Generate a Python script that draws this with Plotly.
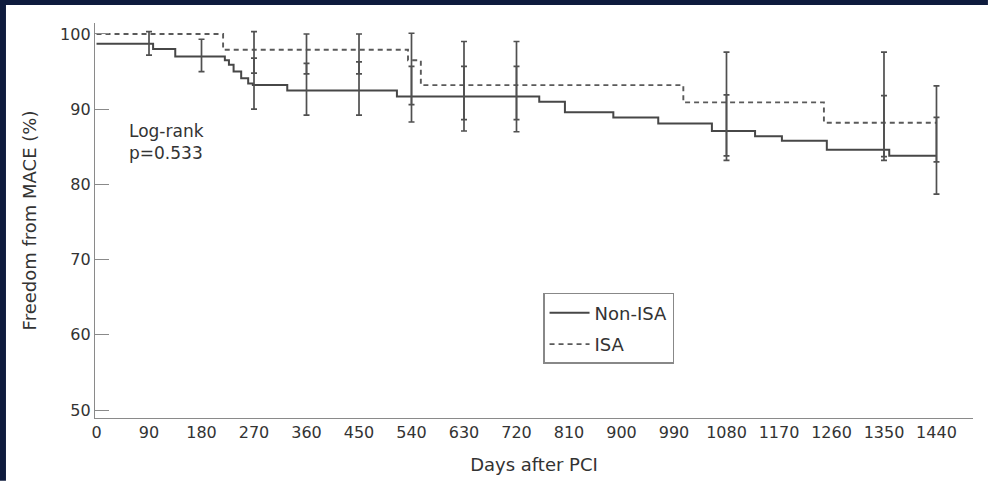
import plotly.graph_objects as go
import bisect

# ---- data ----
non_isa_days = [0, 97, 135, 220, 227, 235, 248, 260, 268, 327, 515, 759, 803, 886, 963, 1055, 1129, 1175, 1252, 1359, 1440]
non_isa_surv = [98.7, 98.0, 97.0, 96.5, 95.9, 95.0, 94.1, 93.4, 93.2, 92.5, 91.7, 91.0, 89.6, 88.9, 88.1, 87.1, 86.4, 85.8, 84.6, 83.8, 83.8]

isa_days = [0, 217, 534, 556, 1006, 1247, 1440]
isa_surv = [100.0, 97.9, 96.5, 93.2, 90.9, 88.2, 88.2]

non_ci_days = [90, 180, 270, 360, 450, 540, 630, 720, 1080, 1350, 1440]
non_ci_upper = [100.3, 99.3, 96.8, 96.1, 96.3, 95.7, 95.7, 95.7, 91.9, 91.8, 88.9]
non_ci_lower = [97.2, 95.0, 90.0, 89.2, 89.2, 88.3, 87.1, 87.0, 83.2, 83.2, 78.7]

isa_ci_days = [270, 360, 450, 540, 630, 720, 1080, 1350, 1440]
isa_ci_upper = [100.3, 100.0, 100.0, 100.1, 99.0, 99.0, 97.6, 97.6, 93.1]
isa_ci_lower = [94.8, 94.7, 94.7, 90.6, 88.6, 88.6, 83.8, 83.7, 83.0]

x_ticks = [0, 90, 180, 270, 360, 450, 540, 630, 720, 810, 900, 990, 1080, 1170, 1260, 1350, 1440]
y_ticks = [50, 60, 70, 80, 90, 100]

series_names = ["Non-ISA", "ISA"]
annotation_text = "Log-rank<br>p=0.533"


def step_value(days, vals, d):
    i = bisect.bisect_right(days, d) - 1
    return vals[max(i, 0)]


LINE = "#474747"
TXT = "#333333"
FONT = "DejaVu Sans"
NAVY = "#0e1b3d"

fig = go.Figure()

fig.add_trace(go.Scatter(
    x=non_isa_days, y=non_isa_surv, mode="lines", name=series_names[0],
    line=dict(color=LINE, width=2, shape="hv"), legendgroup="a"))
fig.add_trace(go.Scatter(
    x=isa_days, y=isa_surv, mode="lines", name=series_names[1],
    line=dict(color="#5a5a5a", width=1.9, shape="hv", dash="5px,4px"), legendgroup="b"))

# confidence interval bars
for days, up, lo, sd, sv in [
    (non_ci_days, non_ci_upper, non_ci_lower, non_isa_days, non_isa_surv),
    (isa_ci_days, isa_ci_upper, isa_ci_lower, isa_days, isa_surv),
]:
    centers = [step_value(sd, sv, d) for d in days]
    fig.add_trace(go.Scatter(
        x=days, y=centers, mode="none",
        showlegend=False, hoverinfo="skip",
        error_y=dict(type="data", symmetric=False,
                     array=[u - c for u, c in zip(up, centers)],
                     arrayminus=[c - l for l, c in zip(lo, centers)],
                     color="#505050", thickness=1.7, width=3)))

fig.add_annotation(
    x=0.037, y=0.70, xref="paper", yref="paper", xanchor="left", yanchor="middle",
    text=annotation_text, showarrow=False, align="left",
    font=dict(family=FONT, size=17, color=TXT))

# navy frame along the top and left edges (kept inside the figure bounds)
fig.add_shape(type="rect", xref="paper", yref="paper",
              x0=-0.1082, x1=1.017, y0=1.0456, y1=1.058,
              fillcolor=NAVY, line=dict(width=0), layer="below")
fig.add_shape(type="rect", xref="paper", yref="paper",
              x0=-0.1082, x1=-0.1014, y0=-0.159, y1=1.058,
              fillcolor=NAVY, line=dict(width=0), layer="below")

fig.update_layout(
    width=988, height=481,
    margin=dict(l=95, r=15, t=23, b=63, autoexpand=False),
    paper_bgcolor="white", plot_bgcolor="white",
    font=dict(family=FONT, size=16, color=TXT),
    showlegend=True,
    legend=dict(x=0.5103, y=0.3165, xanchor="left", yanchor="top",
                bordercolor="#888888", borderwidth=1.5, bgcolor="white",
                font=dict(family=FONT, size=18, color=TXT),
                tracegroupgap=5, itemwidth=40),
    xaxis=dict(range=[-2.6, 1502.6], tickvals=x_ticks, ticktext=[str(t) for t in x_ticks],
               automargin=False,
               showgrid=False, zeroline=False, showline=True, linecolor="#8a8a8a", linewidth=1.3,
               ticks="", tickfont=dict(size=16, color=TXT),
               title=dict(text="Days after PCI", font=dict(size=18, color=TXT), standoff=17)),
    yaxis=dict(range=[48.94, 101.46], tickvals=y_ticks, automargin=False,
               showgrid=False, zeroline=False, showline=True, linecolor="#8a8a8a", linewidth=1.3,
               ticks="inside", ticklen=14, tickcolor="#8a8a8a", tickwidth=1.3,
               tickfont=dict(size=16, color=TXT),
               title=dict(text="Freedom from MACE (%)", font=dict(size=18, color=TXT), standoff=18)),
)

fig.write_html("out.html")
